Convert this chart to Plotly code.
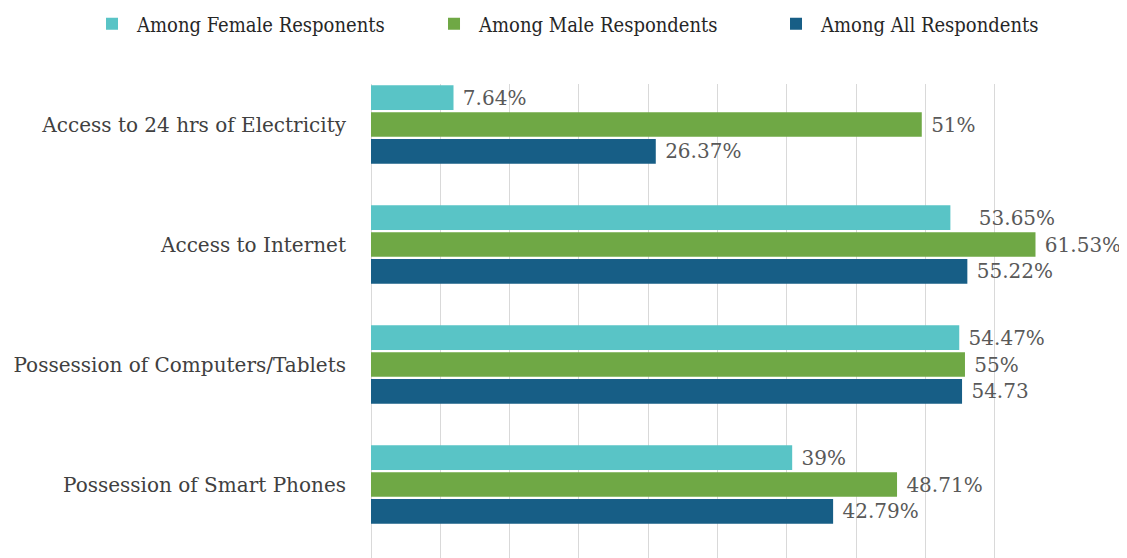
import plotly.graph_objects as go

categories = ["Access to 24 hrs of Electricity", "Access to Internet",
              "Possession of Computers/Tablets", "Possession of Smart Phones"]
series_names = ["Among Female Responents", "Among Male Respondents", "Among All Respondents"]
female = [7.64, 53.65, 54.47, 39]
male = [51, 61.53, 55, 48.71]
all_resp = [26.37, 55.22, 54.73, 42.79]
female_labels = [" 7.64%", "    53.65%", " 54.47%", " 39%"]
male_labels = [" 51%", " 61.53%", " 55%", " 48.71%"]
all_labels = [" 26.37%", " 55.22%", " 54.73", " 42.79%"]

colors = ["#59C4C6", "#6FA845", "#175E86"]
FONT = "DejaVu Serif, serif"
FONT_C = "DejaVu Serif Condensed, DejaVu Serif, serif"

fig = go.Figure()
for name, vals, labels, col in zip(series_names, [female, male, all_resp],
                                   [female_labels, male_labels, all_labels], colors):
    fig.add_trace(go.Bar(
        y=categories, x=vals, name=name, orientation="h",
        marker=dict(color=col, line=dict(width=0)),
        text=labels, textposition="outside", cliponaxis=False,
        textfont=dict(family=FONT, size=20, color="#595959"),
        hoverinfo="skip",
    ))

fig.update_layout(
    width=1119, height=550,
    margin=dict(l=363, r=63, t=76, b=0, autoexpand=False),
    paper_bgcolor="white", plot_bgcolor="white",
    barmode="group", bargap=0.33, bargroupgap=0.08,
    font=dict(family=FONT, color="#404040"),
    legend=dict(orientation="h", x=-0.4098, xanchor="left", y=1.127, yanchor="middle",
                font=dict(family=FONT_C, size=20, color="#262626"),
                itemwidth=40,
                entrywidth=287, entrywidthmode="pixels", traceorder="normal"),
    showlegend=True,
)
fig.update_xaxes(range=[0, 64.17], dtick=6.417, tick0=0, showticklabels=False,
                 showgrid=True, gridcolor="#D9D9D9", gridwidth=1,
                 zeroline=True, zerolinecolor="#D9D9D9", zerolinewidth=1, showline=False)
fig.update_yaxes(range=[3.6125, -0.3375], showgrid=False, zeroline=False, showline=False,
                 automargin=False,
                 ticks="outside", ticklen=20, tickcolor="rgba(0,0,0,0)",
                 tickfont=dict(family=FONT, size=20, color="#404040"))

fig.write_html("out.html")
